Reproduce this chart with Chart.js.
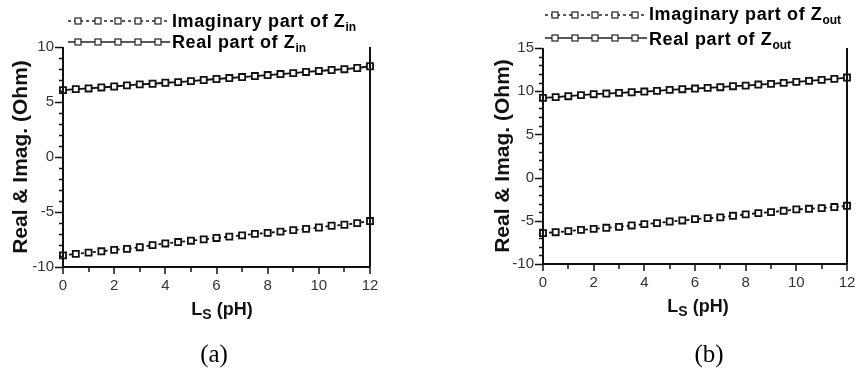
<!DOCTYPE html>
<html>
<head>
<meta charset="utf-8">
<script src="https://cdn.jsdelivr.net/npm/chart.js@4.4.1/dist/chart.umd.min.js"></script>
<style>
body { margin:0; background:#fff; width:857px; height:369px; position:relative; overflow:hidden; font-family:"Liberation Sans", Arial, sans-serif; }
canvas { position:absolute; top:0; }
#chart-a { left:0; }
#chart-b { left:430px; }
.lg { position:absolute; font-weight:bold; font-size:18px; letter-spacing:0.6px; line-height:20px; color:#000; white-space:nowrap; }
.lg sub { font-size:12px; vertical-align:-4px; letter-spacing:0; line-height:0; }
.swatch { position:absolute; }
.xt { position:absolute; font-weight:bold; font-size:18px; line-height:20px; color:#111; white-space:nowrap; transform:translateX(-50%); }
.xt sub { font-size:14px; vertical-align:-4px; line-height:0; }
.cap { position:absolute; font-family:"Liberation Serif","Times New Roman",serif; font-size:25px; line-height:28px; transform:translateX(-50%); }
</style>
</head>
<body>
<canvas id="chart-a" width="430" height="369"></canvas>
<canvas id="chart-b" width="427" height="369"></canvas>

<div class="lg" style="left:172px; top:11px;">Imaginary part of Z<sub>in</sub></div>
<div class="lg" style="left:172px; top:32px;">Real part of Z<sub>in</sub></div>
<div class="lg" style="left:649px; top:4px;">Imaginary part of Z<sub>out</sub></div>
<div class="lg" style="left:649px; top:29px;">Real part of Z<sub>out</sub></div>

<div class="xt" style="left:222px; top:299px;">L<sub>S</sub> (pH)</div>
<div class="xt" style="left:698px; top:296px;">L<sub>S</sub> (pH)</div>

<div class="cap" style="left:214px; top:340px;">(a)</div>
<div class="cap" style="left:709px; top:340px;">(b)</div>

<script>
// L_S sweep (pH)
const ls = [0, 0.5, 1, 1.5, 2, 2.5, 3, 3.5, 4, 4.5, 5, 5.5, 6, 6.5, 7, 7.5, 8, 8.5, 9, 9.5, 10, 10.5, 11, 11.5, 12];

// panel (a) - Z_in
const realZin = [6.08, 6.17, 6.23, 6.32, 6.41, 6.51, 6.60, 6.66, 6.75, 6.81, 6.90, 7.00, 7.09, 7.18, 7.27, 7.36, 7.45, 7.54, 7.63, 7.73, 7.82, 7.91, 7.98, 8.09, 8.25];
const imagZin = [-8.94, -8.81, -8.69, -8.57, -8.44, -8.35, -8.20, -8.01, -7.86, -7.73, -7.61, -7.49, -7.36, -7.24, -7.12, -6.99, -6.90, -6.78, -6.65, -6.53, -6.41, -6.25, -6.16, -6.01, -5.82];

// panel (b) - Z_out
const realZout = [9.23, 9.31, 9.42, 9.54, 9.65, 9.73, 9.81, 9.88, 9.96, 10.04, 10.15, 10.23, 10.31, 10.38, 10.46, 10.58, 10.65, 10.77, 10.85, 10.96, 11.08, 11.19, 11.31, 11.42, 11.58];
const imagZout = [-6.43, -6.32, -6.20, -6.05, -5.93, -5.81, -5.70, -5.54, -5.39, -5.27, -5.08, -4.96, -4.81, -4.69, -4.61, -4.42, -4.26, -4.11, -3.99, -3.84, -3.68, -3.61, -3.53, -3.41, -3.26];

// tick labels
const xTicks = [0, 2, 4, 6, 8, 10, 12];
const yTicksA = [-10, -5, 0, 5, 10];
const yTicksB = [-10, -5, 0, 5, 10, 15];

const FONT = '"Liberation Sans", Arial, sans-serif';

// axis lines + major/minor ticks, drawn from the scales
const axisFrame = {
  id: 'axisFrame',
  afterDraw(chart) {
    const {ctx, chartArea: a, scales: {x, y}} = chart;
    ctx.save();
    ctx.strokeStyle = '#111';
    ctx.lineWidth = 2;
    ctx.beginPath();
    ctx.moveTo(a.left, a.top); ctx.lineTo(a.left, a.bottom); ctx.lineTo(a.right, a.bottom);
    ctx.moveTo(a.right, a.top); ctx.lineTo(a.right, a.bottom);
    ctx.stroke();
    ctx.lineWidth = 1.5;
    ctx.beginPath();
    for (let v = y.min; v <= y.max; v++) {
      const py = Math.round(y.getPixelForValue(v)) + 0.5;
      const len = v % 5 === 0 ? 8 : 4;
      ctx.moveTo(a.left, py); ctx.lineTo(a.left - len, py);
    }
    for (let v = x.min; v <= x.max; v++) {
      const px = Math.round(x.getPixelForValue(v));
      const len = v % 2 === 0 ? 7 : 5;
      ctx.moveTo(px, a.bottom); ctx.lineTo(px, a.bottom + len);
    }
    ctx.stroke();
    ctx.restore();
  }
};

function makeChart(id, real, imag, yTicks, pad, yWidth) {
  const ctx = document.getElementById(id);
  const pts = vals => ls.map((v, i) => ({x: v, y: vals[i]}));
  const common = {
    borderColor: '#111',
    borderWidth: 1.8,
    pointStyle: 'rect',
    pointRadius: 4.3,
    pointBackgroundColor: '#fff',
    pointBorderColor: '#111',
    pointBorderWidth: 1.8,
    tension: 0,
    clip: false
  };
  return new Chart(ctx, {
    type: 'line',
    data: {
      datasets: [
        Object.assign({label: 'Imaginary', data: pts(imag), borderDash: [3, 3]}, common),
        Object.assign({label: 'Real', data: pts(real)}, common)
      ]
    },
    options: {
      responsive: false,
      animation: false,
      layout: {padding: pad},
      plugins: {legend: {display: false}, tooltip: {enabled: false}},
      scales: {
        x: {
          type: 'linear',
          min: 0, max: 12,
          grid: {display: false, drawTicks: false},
          border: {display: false},
          afterBuildTicks: s => { s.ticks = xTicks.map(v => ({value: v})); },
          afterFit: s => { s.height = 40; s.paddingLeft = 0; s.paddingRight = 0; },
          ticks: {color: '#333', padding: 10, font: {family: FONT, size: 15}, maxRotation: 0}
        },
        y: {
          min: yTicks[0], max: yTicks[yTicks.length - 1],
          grid: {display: false, drawTicks: false},
          border: {display: false},
          afterBuildTicks: s => { s.ticks = yTicks.map(v => ({value: v})); },
          afterFit: s => { s.width = yWidth; s.paddingTop = 0; s.paddingBottom = 0; },
          ticks: {color: '#333', padding: 9, font: {family: FONT, size: 15}},
          title: {
            display: true,
            text: 'Real & Imag. (Ohm)',
            color: '#111',
            padding: 0,
            font: {family: FONT, size: 21, weight: 'bold'}
          }
        }
      }
    },
    plugins: [axisFrame]
  });
}

makeChart('chart-a', realZin, imagZin, yTicksA, {left: 9, right: 60, top: 47, bottom: 62}, 54);
makeChart('chart-b', realZout, imagZout, yTicksB, {left: 61, right: 10, top: 48, bottom: 65}, 52);

// legend samples
function swatch(left, lineY, dashed) {
  const ns = 'http://www.w3.org/2000/svg';
  const svg = document.createElementNS(ns, 'svg');
  svg.setAttribute('class', 'swatch');
  svg.setAttribute('width', 104);
  svg.setAttribute('height', 12);
  svg.style.left = left + 'px';
  svg.style.top = (lineY - 6) + 'px';
  const line = document.createElementNS(ns, 'line');
  line.setAttribute('x1', 0); line.setAttribute('x2', 102);
  line.setAttribute('y1', 6); line.setAttribute('y2', 6);
  line.setAttribute('stroke', '#222');
  line.setAttribute('stroke-width', 1.5);
  if (dashed) line.setAttribute('stroke-dasharray', '3 3');
  svg.appendChild(line);
  for (let i = 0; i < 5; i++) {
    const r = document.createElementNS(ns, 'rect');
    r.setAttribute('x', 10 + i * 20 - 3); r.setAttribute('y', 3);
    r.setAttribute('width', 6); r.setAttribute('height', 6);
    r.setAttribute('fill', '#fff'); r.setAttribute('stroke', '#222');
    r.setAttribute('stroke-width', 1.2);
    svg.appendChild(r);
  }
  document.body.appendChild(svg);
}
swatch(68, 21, true);
swatch(68, 42, false);
swatch(545, 15, true);
swatch(545, 38, false);
</script>
</body>
</html>
